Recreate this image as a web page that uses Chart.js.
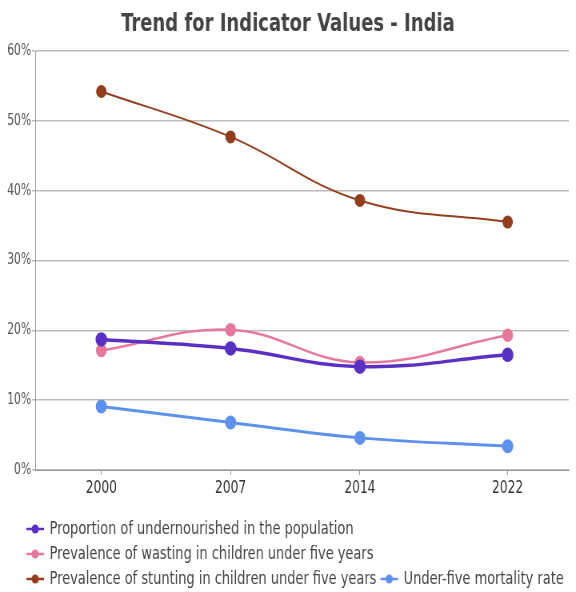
<!DOCTYPE html>
<html>
<head>
<meta charset="utf-8">
<script src="https://cdn.jsdelivr.net/npm/chart.js@4"></script>
<style>
  body { margin: 0; background: #fff; overflow: hidden; }
  /* the reference is horizontally squeezed, so draw wide and squeeze */
  #wrap { width: 720px; height: 592px; transform: scaleX(0.8); transform-origin: 0 0; }
</style>
</head>
<body>
<div id="wrap"><canvas id="myChart" width="720" height="592"></canvas></div>
<script>
const years = [2000, 2007, 2014, 2022];
const undernourished = [18.7, 17.4, 14.8, 16.5];
const wasting = [17.1, 20.1, 15.4, 19.3];
const stunting = [54.2, 47.7, 38.6, 35.5];
const mortality = [9.1, 6.8, 4.6, 3.4];
const yTicks = [0, 10, 20, 30, 40, 50, 60];

const FONT = "'Liberation Sans Narrow', 'DejaVu Sans Condensed', Roboto, sans-serif";

// legend icon: short line with a dot on it
function icon(color) {
  const c = document.createElement('canvas');
  c.width = 24; c.height = 12;
  const g = c.getContext('2d');
  g.strokeStyle = color; g.lineWidth = 2.5;
  g.beginPath(); g.moveTo(1, 6); g.lineTo(23, 6); g.stroke();
  g.fillStyle = color;
  g.beginPath(); g.arc(12, 6, 4.5, 0, Math.PI * 2); g.fill();
  return c;
}

function series(label, values, color, width) {
  return {
    label: label,
    data: years.map((y, i) => ({ x: y, y: values[i] })),
    borderColor: color,
    backgroundColor: color,
    borderWidth: width,
    pointRadius: 5.5,
    pointHoverRadius: 5.5,
    tension: 0.4
  };
}

// move the legend rows right so they start under the y axis labels
const legendShift = {
  id: 'legendShift',
  afterLayout(chart) {
    chart.legend.left += 28;
    chart.legend.right += 28;
  }
};

const ctx = document.getElementById('myChart');
new Chart(ctx, {
  type: 'line',
  data: {
    datasets: [
      series('Proportion of undernourished in the population', undernourished, '#5a30c2', 3.5),
      series('Prevalence of wasting in children under five years', wasting, '#e6799b', 2.5),
      series('Prevalence of stunting in children under five years', stunting, '#923d1d', 2),
      series('Under-five mortality rate', mortality, '#5e91ec', 3)
    ]
  },
  plugins: [legendShift],
  options: {
    responsive: false,
    animation: false,
    layout: { padding: { left: 0, right: 0, top: 0, bottom: -6 } },
    plugins: {
      title: {
        display: true,
        text: 'Trend for Indicator Values - India',
        color: '#444',
        font: { family: FONT, size: 25, weight: 'bold', lineHeight: 1.2 },
        padding: { top: 9.5, bottom: 11.5 }
      },
      legend: {
        position: 'bottom',
        align: 'start',
        labels: {
          color: '#444',
          font: { family: FONT, size: 18 },
          padding: 7,
          usePointStyle: true,
          generateLabels: (chart) => chart.data.datasets.map((ds, i) => ({
            text: ds.label,
            fillStyle: ds.borderColor,
            strokeStyle: ds.borderColor,
            pointStyle: icon(ds.borderColor),
            fontColor: '#444',
            datasetIndex: i,
            hidden: false
          }))
        }
      },
      tooltip: { enabled: false }
    },
    scales: {
      x: {
        type: 'linear',
        min: 1996.42,
        max: 2025.31,
        afterBuildTicks: (axis) => { axis.ticks = years.map(v => ({ value: v })); },
        afterFit: (axis) => {
          axis.height = 43;
          axis.paddingLeft = 0;
          axis.paddingRight = 0;
        },
        ticks: {
          color: '#333',
          font: { family: FONT, size: 17 },
          padding: 3,
          callback: (v) => String(v)
        },
        grid: { drawOnChartArea: false, drawTicks: true, tickLength: 5, color: '#999' },
        border: { color: '#999', width: 1 }
      },
      y: {
        min: 0,
        max: 60,
        afterBuildTicks: (axis) => { axis.ticks = yTicks.map(v => ({ value: v })); },
        afterFit: (axis) => { axis.width = 44; },
        ticks: {
          color: '#555',
          font: { family: FONT, size: 15 },
          padding: 1,
          callback: (v) => v + '%'
        },
        grid: { color: '#bbb', lineWidth: 1.5, tickLength: 4 },
        border: { color: '#999', width: 1 }
      }
    }
  }
});
</script>
</body>
</html>
